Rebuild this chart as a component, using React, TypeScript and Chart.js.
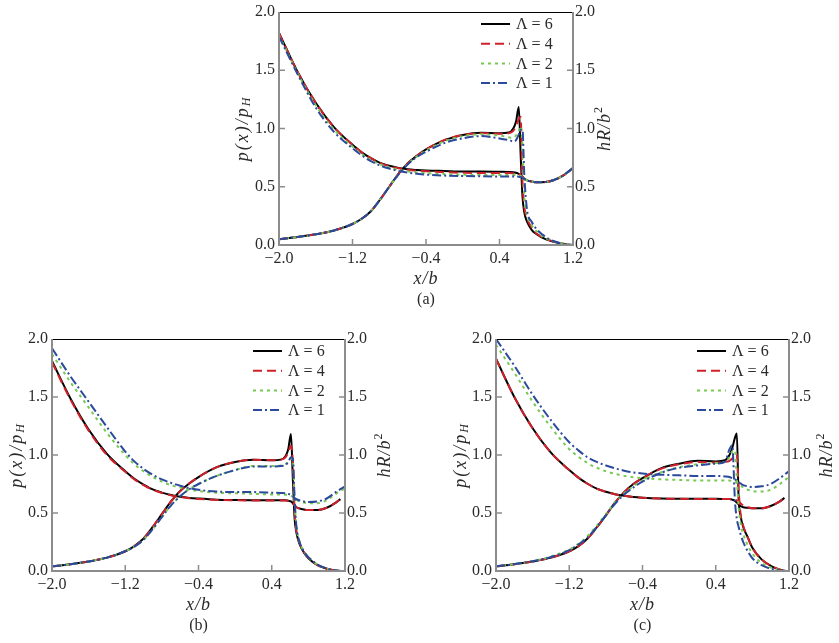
import { useEffect, useRef } from "react";
import Chart from "chart.js/auto";

// shared x/b sample positions
const xs = [
  -2.0, -1.8, -1.6, -1.4, -1.2, -1.1, -1.0, -0.9, -0.8, -0.7, -0.6, -0.5, -0.4, -0.2, 0.0, 0.2,
  0.4, 0.5, 0.55, 0.58, 0.61, 0.63, 0.65, 0.67, 0.7, 0.75, 0.8, 0.9, 1.0, 1.1, 1.15, 1.2,
];

const lambdas = ["6", "4", "2", "1"];
const xTickValues = [-2.0, -1.2, -0.4, 0.4, 1.2];
const yTickValues = [0, 0.5, 1.0, 1.5, 2.0];

// (a) pressure p(x)/pH
const pA6 = [0.05, 0.068, 0.092, 0.125, 0.18, 0.225, 0.29, 0.39, 0.5, 0.61, 0.7, 0.765, 0.82, 0.9, 0.945, 0.963, 0.96, 0.965, 1.0, 1.06, 1.185, 0.78, 0.42, 0.28, 0.2, 0.13, 0.095, 0.05, 0.025, 0.008, 0.003, 0.0];
const pA4 = [0.05, 0.068, 0.092, 0.125, 0.18, 0.225, 0.29, 0.39, 0.5, 0.61, 0.7, 0.765, 0.82, 0.9, 0.945, 0.96, 0.955, 0.96, 0.98, 1.02, 1.08, 1.1, 0.55, 0.33, 0.23, 0.15, 0.1, 0.055, 0.027, 0.009, 0.003, 0.0];
const pA2 = [0.05, 0.068, 0.092, 0.125, 0.18, 0.225, 0.29, 0.39, 0.5, 0.605, 0.695, 0.76, 0.81, 0.89, 0.935, 0.95, 0.94, 0.925, 0.92, 0.94, 0.98, 1.02, 0.85, 0.42, 0.26, 0.17, 0.12, 0.06, 0.03, 0.01, 0.004, 0.0];
const pA1 = [0.05, 0.068, 0.092, 0.125, 0.18, 0.225, 0.29, 0.39, 0.5, 0.605, 0.69, 0.755, 0.8, 0.875, 0.915, 0.935, 0.915, 0.9, 0.89, 0.9, 0.95, 0.99, 0.99, 0.6, 0.3, 0.2, 0.14, 0.07, 0.03, 0.01, 0.004, 0.0];
// (a) film thickness hR/b^2
const hA6 = [1.82, 1.49, 1.22, 1.01, 0.86, 0.795, 0.745, 0.705, 0.68, 0.662, 0.65, 0.644, 0.64, 0.635, 0.63, 0.63, 0.628, 0.627, 0.625, 0.62, 0.61, 0.6, 0.585, 0.57, 0.555, 0.545, 0.538, 0.54, 0.56, 0.6, 0.63, 0.66];
const hA4 = [1.82, 1.49, 1.22, 1.01, 0.86, 0.795, 0.745, 0.703, 0.677, 0.658, 0.645, 0.637, 0.632, 0.625, 0.62, 0.618, 0.617, 0.617, 0.616, 0.614, 0.61, 0.6, 0.585, 0.57, 0.555, 0.545, 0.538, 0.54, 0.56, 0.6, 0.63, 0.66];
const hA2 = [1.8, 1.48, 1.2, 0.99, 0.845, 0.78, 0.73, 0.692, 0.666, 0.646, 0.632, 0.623, 0.617, 0.608, 0.603, 0.6, 0.6, 0.6, 0.6, 0.6, 0.598, 0.593, 0.583, 0.57, 0.555, 0.545, 0.538, 0.54, 0.56, 0.6, 0.63, 0.66];
const hA1 = [1.79, 1.47, 1.18, 0.97, 0.83, 0.77, 0.72, 0.683, 0.656, 0.636, 0.622, 0.612, 0.604, 0.596, 0.592, 0.59, 0.588, 0.587, 0.587, 0.587, 0.586, 0.583, 0.577, 0.568, 0.555, 0.545, 0.538, 0.54, 0.56, 0.6, 0.63, 0.66];

// (b)
const pB6 = [0.04, 0.058, 0.082, 0.115, 0.17, 0.215, 0.28, 0.38, 0.49, 0.6, 0.69, 0.755, 0.81, 0.895, 0.94, 0.96, 0.955, 0.96, 0.99, 1.05, 1.18, 0.8, 0.45, 0.33, 0.24, 0.16, 0.11, 0.05, 0.02, 0.004, 0.0, 0.0];
const pB4 = [0.04, 0.058, 0.082, 0.115, 0.17, 0.215, 0.28, 0.38, 0.49, 0.6, 0.69, 0.755, 0.81, 0.895, 0.94, 0.96, 0.955, 0.96, 0.98, 1.02, 1.08, 0.95, 0.5, 0.34, 0.25, 0.165, 0.115, 0.05, 0.02, 0.004, 0.0, 0.0];
const pB2 = [0.04, 0.058, 0.082, 0.115, 0.17, 0.21, 0.27, 0.36, 0.465, 0.565, 0.645, 0.705, 0.75, 0.82, 0.87, 0.905, 0.905, 0.91, 0.92, 0.94, 0.97, 0.96, 0.6, 0.38, 0.26, 0.17, 0.12, 0.055, 0.022, 0.005, 0.0, 0.0];
const pB1 = [0.04, 0.058, 0.082, 0.115, 0.17, 0.21, 0.27, 0.36, 0.465, 0.565, 0.645, 0.705, 0.75, 0.82, 0.87, 0.9, 0.9, 0.905, 0.915, 0.94, 0.98, 0.97, 0.62, 0.38, 0.26, 0.17, 0.12, 0.055, 0.022, 0.005, 0.0, 0.0];
const hB6 = [1.81, 1.49, 1.22, 1.01, 0.86, 0.795, 0.745, 0.703, 0.676, 0.655, 0.64, 0.63, 0.624, 0.615, 0.612, 0.61, 0.61, 0.61, 0.61, 0.605, 0.6, 0.585, 0.565, 0.55, 0.54, 0.53, 0.525, 0.525, 0.545, 0.59, 0.62, null];
const hB4 = [1.8, 1.48, 1.21, 1.0, 0.855, 0.79, 0.74, 0.7, 0.673, 0.652, 0.637, 0.628, 0.621, 0.613, 0.61, 0.608, 0.608, 0.608, 0.608, 0.604, 0.598, 0.583, 0.565, 0.55, 0.54, 0.53, 0.525, 0.525, 0.545, 0.59, 0.62, null];
const hB2 = [1.87, 1.63, 1.41, 1.19, 1.0, 0.92, 0.86, 0.81, 0.77, 0.74, 0.72, 0.703, 0.69, 0.675, 0.67, 0.665, 0.66, 0.66, 0.658, 0.655, 0.648, 0.64, 0.625, 0.612, 0.6, 0.59, 0.585, 0.585, 0.61, 0.665, 0.69, 0.71];
const hB1 = [1.92, 1.68, 1.46, 1.24, 1.03, 0.945, 0.88, 0.83, 0.79, 0.76, 0.735, 0.715, 0.7, 0.685, 0.68, 0.68, 0.675, 0.672, 0.67, 0.665, 0.655, 0.645, 0.63, 0.62, 0.61, 0.6, 0.595, 0.6, 0.625, 0.68, 0.705, 0.73];

// (c)
const pC6 = [0.04, 0.058, 0.082, 0.115, 0.17, 0.215, 0.28, 0.375, 0.48, 0.59, 0.68, 0.75, 0.8, 0.885, 0.925, 0.95, 0.945, 0.955, 1.0, 1.06, 1.15, 1.185, 0.62, 0.48, 0.38, 0.29, 0.2, 0.1, 0.045, 0.012, 0.003, 0.0];
const pC4 = [0.04, 0.058, 0.082, 0.115, 0.17, 0.215, 0.28, 0.375, 0.48, 0.59, 0.68, 0.75, 0.8, 0.88, 0.92, 0.94, 0.935, 0.94, 0.95, 0.97, 1.0, 1.01, 0.7, 0.5, 0.39, 0.29, 0.2, 0.1, 0.045, 0.012, 0.003, 0.0];
const pC2 = [0.04, 0.06, 0.085, 0.125, 0.185, 0.235, 0.3, 0.39, 0.49, 0.59, 0.67, 0.73, 0.78, 0.85, 0.895, 0.92, 0.93, 0.94, 0.98, 1.03, 1.04, 0.8, 0.55, 0.42, 0.32, 0.22, 0.15, 0.07, 0.03, 0.008, 0.002, 0.0];
const pC1 = [0.04, 0.06, 0.085, 0.12, 0.18, 0.228, 0.29, 0.38, 0.48, 0.58, 0.66, 0.72, 0.77, 0.845, 0.89, 0.91, 0.925, 0.94, 1.05, 1.085, 0.6, 0.45, 0.38, 0.32, 0.25, 0.17, 0.11, 0.05, 0.02, 0.005, 0.001, 0.0];
const hC6 = [1.83, 1.5, 1.23, 1.02, 0.87, 0.805, 0.752, 0.71, 0.683, 0.662, 0.648, 0.638, 0.632, 0.625, 0.623, 0.622, 0.622, 0.621, 0.62, 0.615, 0.605, 0.59, 0.575, 0.56, 0.55, 0.545, 0.54, 0.54, 0.56, 0.6, 0.63, null];
const hC4 = [1.83, 1.5, 1.23, 1.02, 0.87, 0.805, 0.752, 0.71, 0.683, 0.662, 0.648, 0.638, 0.632, 0.625, 0.622, 0.621, 0.621, 0.62, 0.62, 0.618, 0.614, 0.608, 0.6, 0.585, 0.565, 0.55, 0.542, 0.54, 0.56, 0.6, 0.63, null];
const hC2 = [1.95, 1.71, 1.46, 1.24, 1.05, 0.985, 0.93, 0.89, 0.86, 0.837, 0.82, 0.808, 0.8, 0.79, 0.785, 0.78, 0.78, 0.78, 0.78, 0.775, 0.77, 0.76, 0.75, 0.74, 0.72, 0.7, 0.69, 0.685, 0.7, 0.75, 0.78, 0.81];
const hC1 = [2.0, 1.77, 1.52, 1.3, 1.11, 1.04, 0.98, 0.94, 0.91, 0.885, 0.865, 0.85, 0.84, 0.83, 0.825, 0.82, 0.82, 0.815, 0.81, 0.8, 0.79, 0.78, 0.765, 0.755, 0.74, 0.73, 0.725, 0.73, 0.75, 0.8, 0.83, 0.86];

const lineStyles = [
  { color: "#000000", dash: [] as number[] },
  { color: "#d0212b", dash: [9, 5] },
  { color: "#76c951", dash: [3, 4] },
  { color: "#2c4a9c", dash: [9, 3, 2, 3] },
];

const AXIS = "#8c8c8c";
const TEXT = "#2a2a2a";
const SERIF = "'Liberation Serif', 'DejaVu Serif', serif";

interface Panel {
  caption: string;
  left: number;
  top: number;
  width: number;
  height: number;
  lw: number;
  rw: number;
  xh: number;
  p: number[][];
  h: (number | null)[][];
  leftTitleDx: number;
  rightTitleDx: number;
}

const panels: Panel[] = [
  { caption: "(a)", left: 229, top: 0, width: 382, height: 318, lw: 50, rw: 38, xh: 73, p: [pA6, pA4, pA2, pA1], h: [hA6, hA4, hA2, hA1], leftTitleDx: -36, rightTitleDx: 32 },
  { caption: "(b)", left: 0, top: 327, width: 395, height: 316, lw: 52, rw: 50, xh: 72, p: [pB6, pB4, pB2, pB1], h: [hB6, hB4, hB2, hB1], leftTitleDx: -35, rightTitleDx: 40 },
  { caption: "(c)", left: 444, top: 327, width: 395, height: 316, lw: 52, rw: 50, xh: 72, p: [pC6, pC4, pC2, pC1], h: [hC6, hC4, hC2, hC1], leftTitleDx: -35, rightTitleDx: 38 },
];

const fmt = (v: number) => (Math.round(v * 10) / 10).toFixed(1).replace("-", "\u2212");

type Part = { t: string; size: number; italic: boolean; dy: number };

function drawParts(ctx: any, cx: number, cy: number, parts: Part[], rotate: boolean, spacing = 0) {
  ctx.save();
  ctx.translate(cx, cy);
  if (rotate) ctx.rotate(-Math.PI / 2);
  ctx.textBaseline = "middle";
  ctx.textAlign = "left";
  ctx.fillStyle = TEXT;
  ctx.letterSpacing = `${spacing}px`;
  const font = (p: Part) => `${p.italic ? "italic " : ""}${p.size}px ${SERIF}`;
  let total = 0;
  for (const p of parts) {
    ctx.font = font(p);
    total += ctx.measureText(p.t).width;
  }
  let x = -total / 2;
  for (const p of parts) {
    ctx.font = font(p);
    ctx.fillText(p.t, x, p.dy);
    x += ctx.measureText(p.t).width;
  }
  ctx.restore();
}

const framePlugin = (panel: Panel) => ({
  id: "frame",
  afterDraw(chart: any) {
    const { ctx, chartArea: a, scales } = chart;
    ctx.save();
    // frame: black top, grey left/bottom/right
    ctx.setLineDash([]);
    ctx.strokeStyle = "#000";
    ctx.lineWidth = 1;
    ctx.beginPath();
    ctx.moveTo(a.left, a.top + 0.5);
    ctx.lineTo(a.right, a.top + 0.5);
    ctx.stroke();
    ctx.strokeStyle = AXIS;
    ctx.lineWidth = 2;
    ctx.beginPath();
    ctx.moveTo(a.left, a.top);
    ctx.lineTo(a.left, a.bottom);
    ctx.lineTo(a.right, a.bottom);
    ctx.lineTo(a.right, a.top);
    ctx.stroke();

    // inward ticks
    ctx.lineWidth = 1.5;
    ctx.beginPath();
    for (const t of scales.x.ticks) {
      const px = scales.x.getPixelForValue(t.value);
      if (px <= a.left + 2 || px >= a.right - 2) continue;
      ctx.moveTo(px, a.bottom);
      ctx.lineTo(px, a.bottom - 6);
    }
    for (const t of scales.y.ticks) {
      const py = scales.y.getPixelForValue(t.value);
      if (py <= a.top + 2 || py >= a.bottom - 2) continue;
      ctx.moveTo(a.left, py);
      ctx.lineTo(a.left + 6, py);
    }
    for (const t of scales.y2.ticks) {
      const py = scales.y2.getPixelForValue(t.value);
      if (py <= a.top + 2 || py >= a.bottom - 2) continue;
      ctx.moveTo(a.right, py);
      ctx.lineTo(a.right - 6, py);
    }
    ctx.stroke();

    // legend
    lineStyles.forEach((s, i) => {
      const y = a.top + 12 + i * 19.7;
      ctx.strokeStyle = s.color;
      ctx.lineWidth = 2;
      ctx.setLineDash(s.dash);
      ctx.beginPath();
      ctx.moveTo(a.right - 92, y);
      ctx.lineTo(a.right - 63, y);
      ctx.stroke();
      ctx.setLineDash([]);
      ctx.fillStyle = TEXT;
      ctx.font = `16px ${SERIF}`;
      ctx.textBaseline = "middle";
      ctx.textAlign = "left";
      ctx.fillText(`\u039B = ${lambdas[i]}`, a.right - 57, y + 1);
    });
    ctx.restore();

    const midY = (a.top + a.bottom) / 2;
    const midX = (a.left + a.right) / 2;
    drawParts(ctx, a.left + panel.leftTitleDx, midY, [
      { t: "p(x)/p", size: 18, italic: true, dy: 0 },
      { t: "H", size: 12, italic: true, dy: 4 },
    ], true, 2);
    drawParts(ctx, a.right + panel.rightTitleDx, midY, [
      { t: "hR/b", size: 18, italic: true, dy: 0 },
      { t: "2", size: 12, italic: false, dy: -6 },
    ], true, 1);
    drawParts(ctx, midX, a.bottom + 34, [{ t: "x/b", size: 18, italic: true, dy: 0 }], false, 1);
    drawParts(ctx, midX, a.bottom + 55, [{ t: panel.caption, size: 16, italic: false, dy: 0 }], false);
  },
});

const PanelChart = ({ panel }: { panel: Panel }) => {
  const canvasRef = useRef<HTMLCanvasElement>(null);

  useEffect(() => {
    if (!canvasRef.current) return;
    const datasets: any[] = [];
    lineStyles.forEach((s, i) => {
      const common = {
        borderColor: s.color,
        borderDash: s.dash,
        borderWidth: 2,
        pointRadius: 0,
        fill: false,
        cubicInterpolationMode: "monotone",
        order: 3 - i,
      };
      datasets.push({ ...common, label: `p ${lambdas[i]}`, yAxisID: "y", data: xs.map((x, k) => ({ x, y: panel.p[i][k] })) });
      datasets.push({ ...common, label: `h ${lambdas[i]}`, yAxisID: "y2", data: xs.map((x, k) => ({ x, y: panel.h[i][k] })) });
    });

    const tickFont = { family: SERIF, size: 16, lineHeight: 1 };
    const yScale = (position: string, width: number, padding: number) => ({
      type: "linear",
      position,
      min: 0,
      max: 2,
      afterBuildTicks: (s: any) => {
        s.ticks = yTickValues.map((v) => ({ value: v }));
      },
      afterFit: (s: any) => {
        s.width = width;
      },
      grid: { display: false, drawTicks: false },
      border: { display: false },
      ticks: { font: tickFont, color: TEXT, padding, callback: (v: any) => fmt(Number(v)) },
    });

    const chart = new Chart(canvasRef.current, {
      type: "line",
      data: { datasets },
      plugins: [framePlugin(panel)],
      options: {
        animation: false,
        responsive: false,
        devicePixelRatio: 1,
        layout: { padding: { top: 9, left: 0, right: 0, bottom: 0 } },
        plugins: { legend: { display: false }, tooltip: { enabled: false } },
        scales: {
          x: {
            type: "linear",
            min: -2,
            max: 1.2,
            afterBuildTicks: (s: any) => {
              s.ticks = xTickValues.map((v) => ({ value: v }));
            },
            afterFit: (s: any) => {
              s.height = panel.xh;
            },
            grid: { display: false, drawTicks: false },
            border: { display: false },
            ticks: { font: tickFont, color: TEXT, padding: 6, maxRotation: 0, callback: (v: any) => fmt(Number(v)) },
          },
          y: yScale("left", panel.lw, 4),
          y2: yScale("right", panel.rw, 2),
        } as any,
      },
    } as any);

    return () => {
      chart.destroy();
    };
  }, [panel]);

  return (
    <canvas
      ref={canvasRef}
      width={panel.width}
      height={panel.height}
      style={{ position: "absolute", left: panel.left, top: panel.top, width: panel.width, height: panel.height }}
    />
  );
};

export default function App() {
  return (
    <div style={{ position: "absolute", left: 0, top: 0, width: 839, height: 643, background: "#fff", overflow: "hidden" }}>
      {panels.map((p) => (
        <PanelChart key={p.caption} panel={p} />
      ))}
    </div>
  );
}
